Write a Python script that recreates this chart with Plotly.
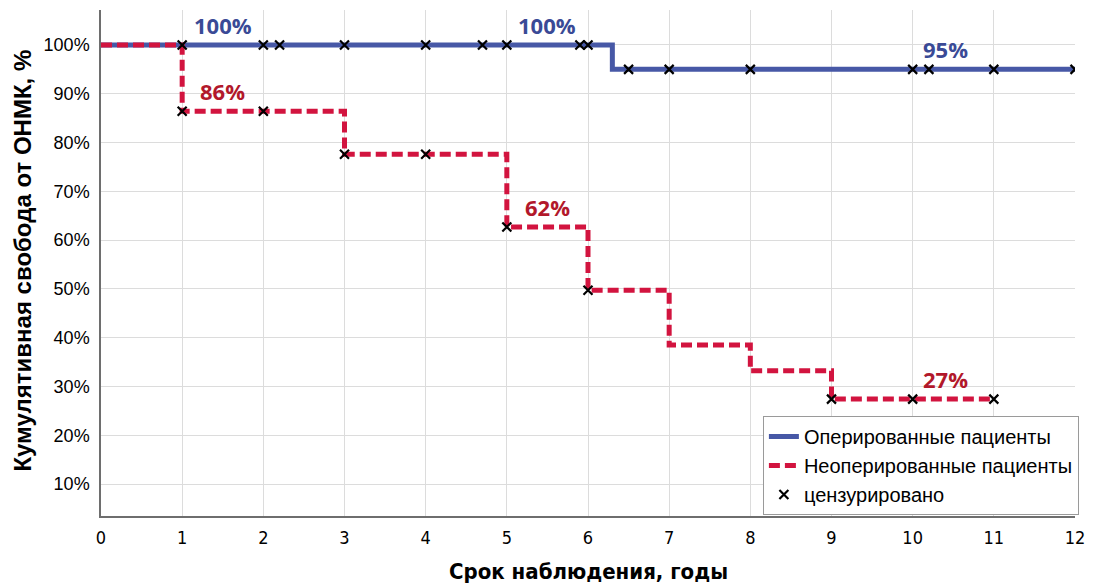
import numpy as np
import plotly.graph_objects as go

# Kaplan–Meier estimates: event times (years) and survival after each step
op_times = [0.0, 6.3]
op_surv = [1.0, 0.95]
op_end = 12.0
op_censored = [1, 2, 2.2, 3, 4, 4.7, 5, 5.9, 6.0, 6.5, 7, 8, 10, 10.2, 11, 12]

nonop_times = [0.0, 1.0, 3.0, 5.0, 6.0, 7.0, 8.0, 9.0]
nonop_surv = [1.0, 0.864, 0.776, 0.627, 0.497, 0.385, 0.332, 0.274]
nonop_end = 11.0
nonop_censored = [1, 2, 3, 4, 5, 6, 9, 10, 11]

# Survival values printed above the curves: (time position, estimate)
op_labels_at = [(1.5, 1.0), (5.5, 1.0), (10.4, 0.95)]
nonop_labels_at = [(1.5, 0.864), (5.5, 0.627), (10.4, 0.274)]

x_ticks = list(range(0, 13))
y_ticks = [0.1, 0.2, 0.3, 0.4, 0.5, 0.6, 0.7, 0.8, 0.9, 1.0]

BLUE = "#4758A6"
BLUE_TXT = "#3A4A96"
RED = "#D2143F"
RED_TXT = "#B2182B"
COND = "DejaVu Sans Condensed, Liberation Sans Narrow, Liberation Sans"


def surv_at(times, surv, t):
    idx = np.searchsorted(np.asarray(times), t, side="right") - 1
    return surv[int(idx)]


def pct_text(v):
    return f"{int(round(v * 1000) // 10)}%"


fig = go.Figure()

fig.add_trace(go.Scatter(
    x=op_times + [op_end], y=op_surv + [op_surv[-1]],
    mode="lines", line=dict(color=BLUE, width=5, shape="hv"),
    name="Оперированные пациенты",
))
fig.add_trace(go.Scatter(
    x=nonop_times + [nonop_end], y=nonop_surv + [nonop_surv[-1]],
    mode="lines", line=dict(color=RED, width=5, shape="hv", dash="11px,5px"),
    name="Неоперированные пациенты",
))

cx = op_censored + nonop_censored
cy = ([surv_at(op_times, op_surv, t) for t in op_censored]
      + [surv_at(nonop_times, nonop_surv, t) for t in nonop_censored])
fig.add_trace(go.Scatter(
    x=cx, y=cy, mode="markers",
    marker=dict(symbol="x-thin", size=9, line=dict(color="black", width=2.2)),
    name="цензурировано",
))

for (tx, v) in op_labels_at:
    fig.add_annotation(x=tx, y=v, text=f"<b>{pct_text(v)}</b>", showarrow=False,
                       yshift=20, font=dict(family="Open Sans", size=22, color=BLUE_TXT))
for (tx, v) in nonop_labels_at:
    fig.add_annotation(x=tx, y=v, text=f"<b>{pct_text(v)}</b>", showarrow=False,
                       yshift=20, font=dict(family="Open Sans", size=22, color=RED_TXT))

# Axis titles
fig.add_annotation(xref="paper", yref="paper", x=0.5, y=-0.109, yanchor="middle",
                   text="<b>Срок наблюдения, годы</b>", showarrow=False,
                   font=dict(family=COND, size=22, color="black"))
fig.add_annotation(xref="paper", yref="paper", x=-0.081, xanchor="center",
                   y=0.505, yanchor="middle", textangle=-90,
                   text="<b>Кумулятивная свобода от ОНМК, %</b>", showarrow=False,
                   font=dict(family="Liberation Sans, Arial", size=24, color="black"))

fig.update_layout(
    width=1095, height=583,
    margin=dict(l=101, r=20, t=10, b=67, autoexpand=False),
    paper_bgcolor="white", plot_bgcolor="white",
    font=dict(family="Liberation Sans, Arial, sans-serif", color="black"),
    showlegend=True,
    legend=dict(
        x=1.004, xanchor="right", y=0.002, yanchor="bottom",
        bgcolor="white", bordercolor="#9A9A9A", borderwidth=1,
        font=dict(family="Liberation Sans, Arial, sans-serif", size=20, color="black"),
        itemwidth=30, tracegroupgap=0,
    ),
)

fig.update_xaxes(
    range=[0, 12], tickvals=x_ticks, ticktext=[str(v) for v in x_ticks],
    showgrid=True, gridcolor="#DCDCDC", gridwidth=1,
    showline=True, linecolor="#6E6E6E", linewidth=1.5,
    zeroline=False, ticks="", ticklabelstandoff=5, automargin=False,
    tickfont=dict(family=COND, size=18),
)
fig.update_yaxes(
    range=[0.0344, 1.0717], tickvals=y_ticks,
    ticktext=[f"{int(round(v * 100))}%" for v in y_ticks],
    showgrid=True, gridcolor="#DCDCDC", gridwidth=1,
    showline=True, linecolor="#6E6E6E", linewidth=1.5,
    zeroline=False, ticks="", ticklabelstandoff=6, automargin=False,
    tickfont=dict(size=18),
)

fig.write_html("out.html")
